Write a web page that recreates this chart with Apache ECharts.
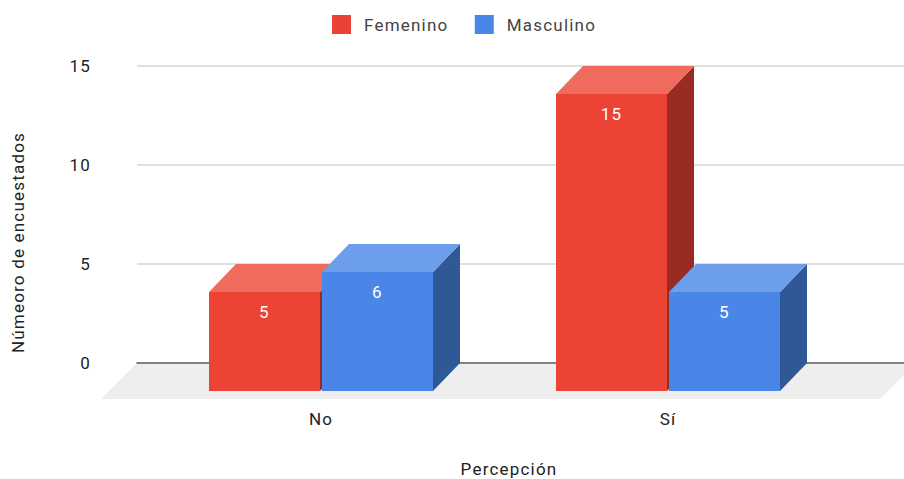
<!DOCTYPE html>
<html>
<head>
<meta charset="utf-8">
<style>
html,body{margin:0;padding:0;background:#fff}
#c{width:904px;height:479px}
text{letter-spacing:1.2px}
</style>
<script src="https://cdn.jsdelivr.net/npm/echarts@6/dist/echarts.min.js"></script>
</head>
<body>
<div id="c"></div>
<script>
const categories = ['No', 'Sí'];
const femenino = [5, 15];
const masculino = [6, 5];
const yTicks = [0, 5, 10, 15];
const xTitle = 'Percepción';
const yTitle = 'Númeoro de encuestados';

const DX = 27, DY = 28, BAR_RATIO = 111 / 347, GAP = 1;
const FONT = 'Roboto', FS = 17;

function barRenderer(side, cFront, cTop, cSide) {
  return function (params, api) {
    const cat = api.value(0), val = api.value(1);
    const base = api.coord([cat, 0]);
    const top = api.coord([cat, val]);
    const w = Math.round(api.size([1, 0])[0] * BAR_RATIO);
    const x0 = Math.round(side < 0 ? base[0] - GAP - w : base[0] + GAP);
    const x1 = x0 + w;
    const yb = Math.round(base[1]), yt = Math.round(top[1]);
    return {
      type: 'group',
      children: [
        { type: 'polygon', shape: { points: [[x1, yt], [x1 + DX, yt - DY], [x1 + DX, yb - DY], [x1, yb]] }, style: { fill: cSide } },
        { type: 'polygon', shape: { points: [[x0, yt], [x0 + DX, yt - DY], [x1 + DX, yt - DY], [x1, yt]] }, style: { fill: cTop } },
        { type: 'rect', shape: { x: x0, y: yt, width: w, height: yb - yt }, style: { fill: cFront } },
        { type: 'text', style: { x: (x0 + x1) / 2, y: yt + 20, text: String(val), fill: '#ffffff', font: FS + 'px ' + FONT, align: 'center', verticalAlign: 'middle' } }
      ]
    };
  };
}

function floorRenderer(params, api) {
  const a = api.coord([0, 0]);
  const b = api.coord([1, 0]);
  const d = 36;
  return {
    type: 'polygon',
    shape: { points: [[a[0], a[1]], [b[0] + 12, a[1]], [b[0] + 12 - d, a[1] + d], [a[0] - d, a[1] + d]] },
    style: { fill: '#eeeeee' }
  };
}

const chart = echarts.init(document.getElementById('c'), null, { renderer: 'svg' });
chart.setOption({
  animation: false,
  backgroundColor: '#ffffff',
  textStyle: { fontFamily: FONT },
  legend: {
    data: ['Femenino', 'Masculino'],
    left: 327, top: 10,
    itemWidth: 19, itemHeight: 19, itemGap: 36,
    icon: 'rect',
    textStyle: { fontFamily: FONT, fontSize: FS, color: '#444444', padding: [0, 0, 2, 8] }
  },
  grid: [
    { left: 137, top: 66, width: 767, height: 297, outerBoundsMode: 'none' },
    { left: 147.5, top: 94, width: 694, height: 297, outerBoundsMode: 'none' }
  ],
  xAxis: [
    { gridIndex: 0, type: 'value', min: 0, max: 1, z: 1,
      axisLine: { show: true, lineStyle: { color: '#606060', width: 1.5 } },
      axisTick: { show: false }, axisLabel: { show: false }, splitLine: { show: false } },
    { gridIndex: 1, type: 'category', data: categories,
      axisLine: { show: false }, axisTick: { show: false }, splitLine: { show: false },
      axisLabel: { margin: 19, fontFamily: FONT, fontSize: FS, color: '#222222' },
      name: xTitle, nameLocation: 'middle', nameGap: 69,
      nameTextStyle: { fontFamily: FONT, fontSize: FS, color: '#222222', padding: [0, 0, 0, 29] } }
  ],
  yAxis: [
    { gridIndex: 0, type: 'value', min: yTicks[0], max: yTicks[yTicks.length - 1], interval: 5,
      axisLine: { show: false }, axisTick: { show: false },
      axisLabel: { margin: 46, fontFamily: FONT, fontSize: FS, color: '#222222' },
      splitLine: { show: true, lineStyle: { color: '#d4d4d4', width: 1.5 } } },
    { gridIndex: 1, type: 'value', min: yTicks[0], max: yTicks[yTicks.length - 1], interval: 5,
      axisLine: { show: false }, axisTick: { show: false }, axisLabel: { show: false }, splitLine: { show: false },
      name: yTitle, nameLocation: 'middle', nameGap: 121,
      nameTextStyle: { fontFamily: FONT, fontSize: FS, color: '#222222' } }
  ],
  series: [
    { type: 'custom', name: 'floor', xAxisIndex: 0, yAxisIndex: 0, z: 0, silent: true, clip: false,
      renderItem: floorRenderer, data: [[0, 0]], encode: { x: 0, y: 1 } },
    { type: 'custom', name: 'Femenino', xAxisIndex: 1, yAxisIndex: 1, z: 5,
      itemStyle: { color: '#ea4335' },
      renderItem: barRenderer(-1, '#ec4334', '#ef6b5e', '#992b22'),
      data: femenino.map((v, i) => [i, v]), encode: { x: 0, y: 1 } },
    { type: 'custom', name: 'Masculino', xAxisIndex: 1, yAxisIndex: 1, z: 6,
      itemStyle: { color: '#4a86e8' },
      renderItem: barRenderer(1, '#4a86e8', '#6d9eeb', '#2f5897'),
      data: masculino.map((v, i) => [i, v]), encode: { x: 0, y: 1 } }
  ]
});
</script>
</body>
</html>
